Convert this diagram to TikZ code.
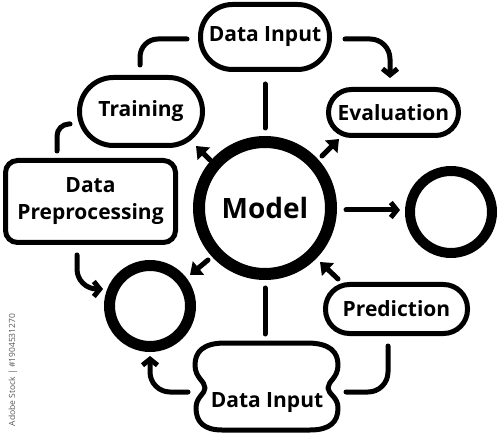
\documentclass[tikz,border=0pt]{standalone}
\usepackage{fontspec}
\setmainfont{Open Sans}
\usetikzlibrary{arrows.meta}
\begin{document}
\begin{tikzpicture}[x=1pt,y=-1pt,
  pill/.style={draw=black, line width=5pt, rounded corners=#1, inner sep=0pt, align=center,
    font=\bfseries\fontsize{21}{25}\selectfont},
  lbl/.style={inner sep=0pt, align=center, font=\bfseries\fontsize{21}{25}\selectfont},
  conn/.style={line width=5pt, line cap=round, draw=black},
  tri/.style={conn, -{Triangle[length=11pt,width=17pt]}},
  barb/.style={conn, -{Straight Barb[length=6pt,width=15pt]}},
  ring/.style={draw=black, circle, inner sep=0pt}
]
\useasboundingbox (0,0) rectangle (500,435);
% nodes
\node[pill=32pt, minimum width=129pt, minimum height=65pt] (dtop) at (265,37) {Data Input};
\node[pill=34pt, minimum width=123pt, minimum height=68pt] (train) at (141,111.5) {Training};
\node[pill=23pt, minimum width=130pt, minimum height=46pt] (eval) at (393.5,112.5) {Evaluation};
\node[pill=24pt, minimum width=142pt, minimum height=49pt] (pred) at (396.5,309) {Prediction};
\node[pill=12pt, minimum width=170pt, minimum height=82pt] (prep) at (90.5,201.5) {Data\\[2pt]Preprocessing};
\node[ring, line width=12pt, minimum size=132pt, font=\bfseries\fontsize{28}{30}\selectfont] (model) at (265,208) {Model};
\node[ring, line width=10pt, minimum size=82pt] (rc) at (451,212) {};
\node[ring, line width=11pt, minimum size=81pt] (lc) at (150,306) {};
% bottom data input (bumpy shape)
\draw[line width=5pt, line join=round]
  (225,343) -- (307,343) .. controls (330,343) and (338,352) .. (338,365)
  .. controls (338,378) and (328,381) .. (328,388)
  .. controls (328,394) and (338,397) .. (338,408)
  .. controls (338,422) and (330,430) .. (310,430) -- (222,430)
  .. controls (204,430) and (196,422) .. (196,408)
  .. controls (196,397) and (205,394) .. (205,388)
  .. controls (205,381) and (195,378) .. (195,365)
  .. controls (195,352) and (203,343) .. (225,343) -- cycle;
\node[lbl] (dbot) at (267,403) {Data Input};
% connector end points
\coordinate (a1) at (345,39);  \coordinate (a2) at (390,78);
\coordinate (b1) at (187,39);  \coordinate (b2) at (140,65);
\coordinate (c1) at (70,124);  \coordinate (c2) at (57,151);
\coordinate (d1) at (265,84);  \coordinate (d2) at (265,128);
\coordinate (e1) at (210,160); \coordinate (e2) at (196,146);
\coordinate (f1) at (322,156); \coordinate (f2) at (339,139);
\coordinate (g1) at (346,210); \coordinate (g2) at (400,210);
\coordinate (h1) at (208,260); \coordinate (h2) at (190,275);
\coordinate (i1) at (77,255);  \coordinate (i2) at (103,289);
\coordinate (j1) at (188,392); \coordinate (j2) at (150,356);
\coordinate (k1) at (338,279); \coordinate (k2) at (320,262);
\coordinate (l1) at (265,288); \coordinate (l2) at (265,334);
\coordinate (m1) at (388,346); \coordinate (m2) at (346,392);
% connectors
\draw[barb, rounded corners=20pt] (a1) -| (a2);
\draw[conn, rounded corners=18pt] (b1) -| (b2);
\draw[conn, rounded corners=12pt] (c1) -| (c2);
\draw[conn] (d1) -- (d2);
\draw[tri] (e1) -- (e2);
\draw[tri] (f1) -- (f2);
\draw[barb] (g1) -- (g2);
\draw[tri] (h1) -- (h2);
\draw[barb, rounded corners=20pt] (i1) |- (i2);
\draw[barb, rounded corners=20pt] (j1) -| (j2);
\draw[tri] (k1) -- (k2);
\draw[conn] (l1) -- (l2);
\draw[conn, rounded corners=20pt] (m1) |- (m2);
% side text
\node[rotate=90, text=black!65, inner sep=0pt, font=\fontsize{8.5}{9}\selectfont] (wm) at (13,370) {Adobe Stock | \#1904531270};
\end{tikzpicture}
\end{document}
